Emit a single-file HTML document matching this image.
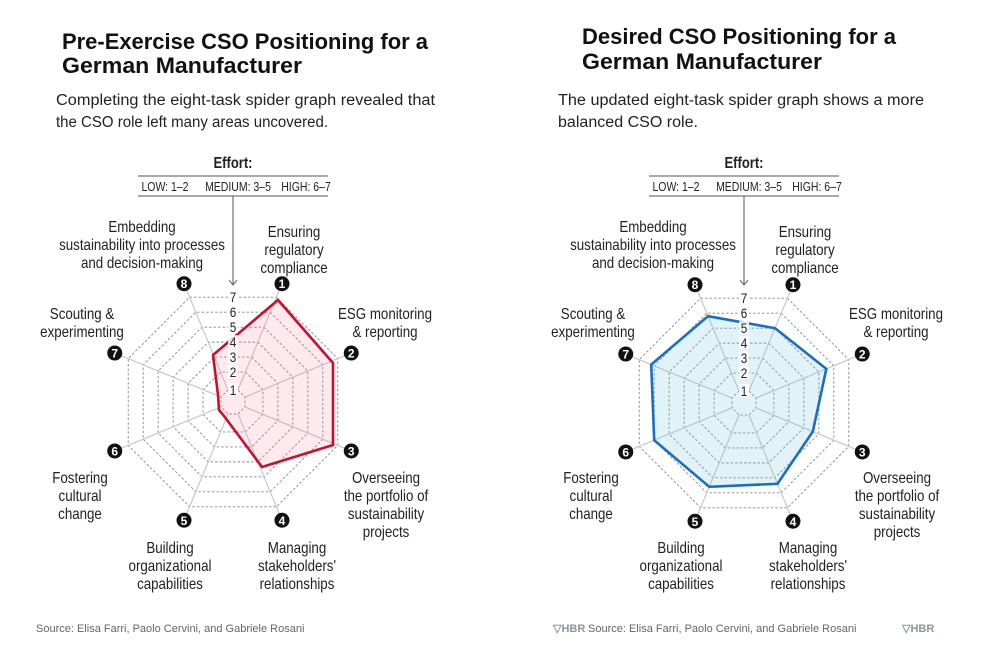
<!DOCTYPE html>
<html><head><meta charset="utf-8"><style>
html,body{margin:0;padding:0;background:#fff;}
svg{display:block;}
text{font-family:"Liberation Sans",sans-serif;fill:#222;}
.t{font-weight:bold;font-size:22px;fill:#111;}
.s{font-size:15.5px;fill:#222;}
.src{font-size:11px;fill:#666;}
</style></head><body>
<svg id="c" width="986" height="660" viewBox="0 0 986 660" xmlns="http://www.w3.org/2000/svg">
<text class="t" x="62" y="49" textLength="366" lengthAdjust="spacingAndGlyphs">Pre-Exercise CSO Positioning for a</text>
<text class="t" x="62" y="73" textLength="240" lengthAdjust="spacingAndGlyphs">German Manufacturer</text>
<text class="s" x="56" y="105" textLength="379" lengthAdjust="spacingAndGlyphs">Completing the eight-task spider graph revealed that</text>
<text class="s" x="56" y="127" textLength="272" lengthAdjust="spacingAndGlyphs">the CSO role left many areas uncovered.</text>
<text class="t" x="582" y="44" textLength="314" lengthAdjust="spacingAndGlyphs">Desired CSO Positioning for a</text>
<text class="t" x="582" y="69" textLength="240" lengthAdjust="spacingAndGlyphs">German Manufacturer</text>
<text class="s" x="558" y="105" textLength="366" lengthAdjust="spacingAndGlyphs">The updated eight-task spider graph shows a more</text>
<text class="s" x="558" y="127" textLength="140" lengthAdjust="spacingAndGlyphs">balanced CSO role.</text>
<text class="src" x="36" y="632">Source: Elisa Farri, Paolo Cervini, and Gabriele Rosani</text>
<text class="src" x="553" y="632" style="font-weight:bold;fill:#8a96a3">▽HBR</text>
<text class="src" x="588" y="632">Source: Elisa Farri, Paolo Cervini, and Gabriele Rosani</text>
<text class="src" x="902" y="632" style="font-weight:bold;fill:#8a96a3">▽HBR</text>
<g id="g"></g>
</svg>
<script>
var NS="http://www.w3.org/2000/svg",g=document.getElementById("g");
function el(t,a,txt){var e=document.createElementNS(NS,t);for(var k in a)e.setAttribute(k,a[k]);if(txt!=null)e.textContent=txt;g.appendChild(e);return e;}
var U=16.2,c22=Math.cos(Math.PI/8);
function ang(i){return (22.5+45*i)*Math.PI/180;}
function pt(cx,cy,i,r){return [cx+r*Math.sin(ang(i)),cy-r*Math.cos(ang(i))];}
function ctext(x,y,s,size,extra,sc){var a={transform:"translate("+x+","+y+") scale("+(sc||0.84)+",1)",x:0,y:0,"text-anchor":"middle","font-size":size};for(var k in extra)a[k]=extra[k];return el("text",a,s);}
var labels=[
 [[61,"Ensuring","regulatory","compliance"],232],
 [[152,"ESG monitoring","& reporting"],314],
 [[153,"Overseeing","the portfolio of","sustainability","projects"],478],
 [[64,"Managing","stakeholders'","relationships"],548],
 [[-63,"Building","organizational","capabilities"],548],
 [[-153,"Fostering","cultural","change"],478],
 [[-151,"Scouting &","experimenting"],314],
 [[-91,"Embedding","sustainability into processes","and decision-making"],227]
];
function chart(cx,cy,data,stroke,fill){
 var ex=cx;
 ctext(ex,168,"Effort:",15.5,{"font-weight":"bold"});
 el("line",{x1:ex-95,y1:176,x2:ex+95,y2:176,stroke:"#555","stroke-width":1});
 el("line",{x1:ex-95,y1:196,x2:ex+95,y2:196,stroke:"#555","stroke-width":1});
 ctext(ex-68,191,"LOW: 1–2",12.5);
 ctext(ex+5,191,"MEDIUM: 3–5",12.5);
 ctext(ex+73,191,"HIGH: 6–7",12.5);
 el("line",{x1:ex,y1:196,x2:ex,y2:285,stroke:"#555","stroke-width":1});
 el("polyline",{points:(ex-4)+",280 "+ex+",285 "+(ex+4)+",280",fill:"none",stroke:"#555","stroke-width":1});
 for(var k=1;k<=7;k++){var r=k==1?13:U*k;var p=[];for(var i=0;i<8;i++)p.push(pt(cx,cy,i,r).join(","));
  el("polygon",{points:p.join(" "),fill:"none",stroke:"#888","stroke-width":0.9,"stroke-dasharray":"2.5,2"});}
 for(var i=0;i<8;i++){var a=pt(cx,cy,i,13),b=pt(cx,cy,i,122);el("line",{x1:a[0],y1:a[1],x2:b[0],y2:b[1],stroke:"#c8c8c8","stroke-width":1.2});}
 var p=[];for(var i=0;i<data.length;i++)p.push(data[i].join(","));
 el("polygon",{points:p.join(" "),fill:fill,stroke:stroke,"stroke-width":2.6,"stroke-linejoin":"miter"});
 for(var k=1;k<=7;k++){var y=cy-(k==1?13:U*k)*c22;el("rect",{x:cx-5,y:y-7,width:10,height:13,fill:"#fff","fill-opacity":0.85});
  ctext(cx,y+5,String(k),14);}
 for(var i=0;i<8;i++){var m=pt(cx,cy,i,128);el("circle",{cx:m[0],cy:m[1],r:7.5,fill:"#111"});
  el("text",{x:m[0],y:m[1]+4.5,"text-anchor":"middle","font-size":"12","font-weight":"bold",style:"fill:#fff"},String(i+1));
  var L=labels[i][0],y0=labels[i][1];for(var j=1;j<L.length;j++)ctext(cx+L[0],y0+5+18*(j-1),L[j],15.5,{},0.86);}
}
chart(233,402,[[278,300],[333,363],[333,445],[262,467],[224,416],[219,410],[218,395],[213,355]],"#c8102e","rgba(240,120,150,0.16)");
var d=[5,5.5,4.6,5.4,5.6,6,6.2,5.8],rp=[];for(var i=0;i<8;i++)rp.push(pt(744,403,i,d[i]*U));
chart(744,403,rp,"#1a6fc0","rgba(120,195,225,0.22)");
</script>
</body></html>
